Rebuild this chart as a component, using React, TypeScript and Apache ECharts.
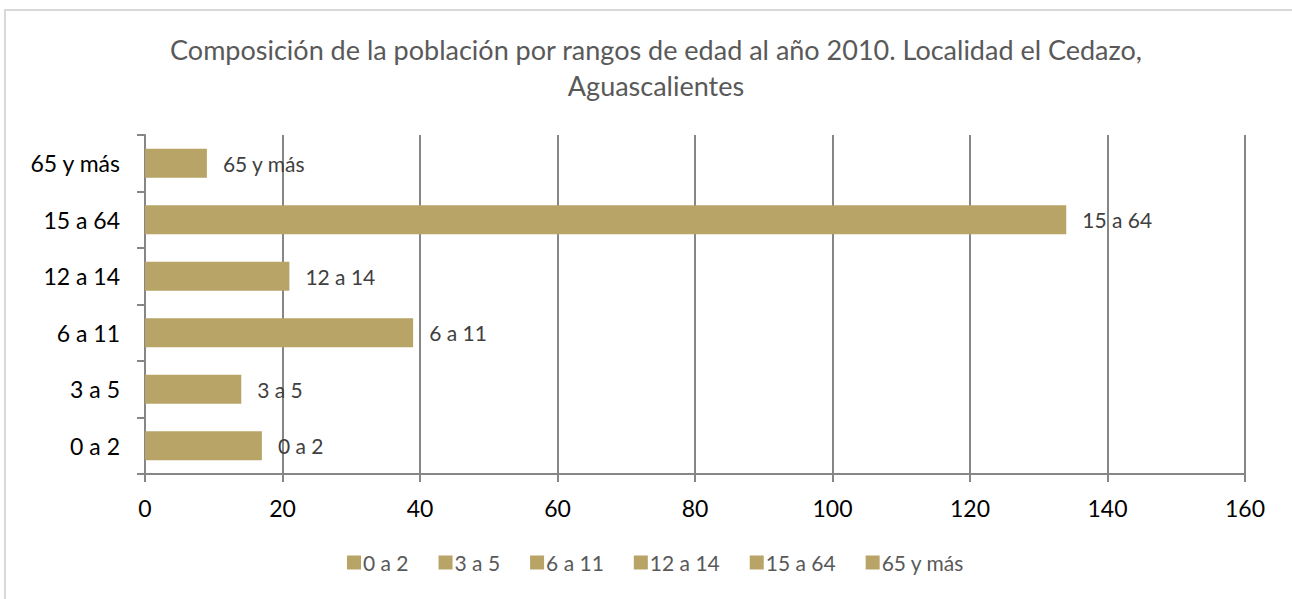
import React, { useEffect, useRef } from "react";
import * as echarts from "echarts";

const categories = ["0 a 2", "3 a 5", "6 a 11", "12 a 14", "15 a 64", "65 y más"];
const values = [17, 14, 39, 21, 134, 9];
const titleText = "Composición de la población por rangos de edad al año 2010. Localidad el Cedazo,\nAguascalientes";
const xTicks = { min: 0, max: 160, interval: 20 };

const BAR = "#B8A466";
const FONT = "Lato, 'Open Sans', sans-serif";

export default function App() {
  const ref = useRef<HTMLDivElement>(null);
  useEffect(() => {
    if (!ref.current) return;
    const chart = echarts.init(ref.current, undefined, { renderer: "svg" });
    const series = categories.map((c, i) => ({
      name: c,
      type: "bar",
      stack: "all",
      barWidth: 29,
      itemStyle: { color: BAR },
      data: values.map((v, j) => (j === i ? v : "-")),
      label: {
        show: true,
        position: "right",
        distance: 16,
        formatter: "{a}",
        color: "#404040",
        fontSize: 21,
        fontFamily: FONT,
      },
    }));
    chart.setOption({
      animation: false,
      backgroundColor: "#fff",
      textStyle: { fontFamily: FONT },
      title: {
        text: titleText,
        left: 651,
        top: 26,
        textAlign: "center",
        textStyle: { color: "#595959", fontSize: 27, fontWeight: "normal", lineHeight: 36, fontFamily: FONT },
      },
      graphic: [
        {
          type: "rect",
          shape: { x: 5, y: 10, width: 1320, height: 620 },
          style: { fill: "none", stroke: "#d9d9d9", lineWidth: 2 },
          silent: true,
        },
      ],
      legend: {
        data: categories,
        bottom: 21,
        left: 342,
        itemWidth: 14,
        itemHeight: 14,
        itemGap: 30,
        icon: "rect",
        textStyle: { color: "#595959", fontSize: 21, fontFamily: FONT, padding: [0, 0, 0, -3] },
      },
      grid: { left: 145, right: 47, top: 135, bottom: 125, containLabel: false },
      xAxis: {
        type: "value",
        min: xTicks.min,
        max: xTicks.max,
        interval: xTicks.interval,
        axisLine: { show: true, lineStyle: { color: "#868686", width: 2 } },
        axisTick: { show: true, length: 8, lineStyle: { color: "#868686", width: 2 } },
        splitLine: { show: true, lineStyle: { color: "#868686", width: 2 } },
        axisLabel: { color: "#000", fontSize: 23, margin: 22, fontFamily: FONT },
      },
      yAxis: {
        type: "category",
        data: categories,
        axisLine: { show: true, lineStyle: { color: "#868686", width: 2 } },
        axisTick: { show: true, length: 8, lineStyle: { color: "#868686", width: 2 } },
        axisLabel: { color: "#000", fontSize: 23, margin: 25, fontFamily: FONT },
      },
      series,
    });
    return () => chart.dispose();
  }, []);
  return (
    <div
      ref={ref}
      style={{ position: "absolute", left: 0, top: 0, width: 1292, height: 599 }}
    />
  );
}
